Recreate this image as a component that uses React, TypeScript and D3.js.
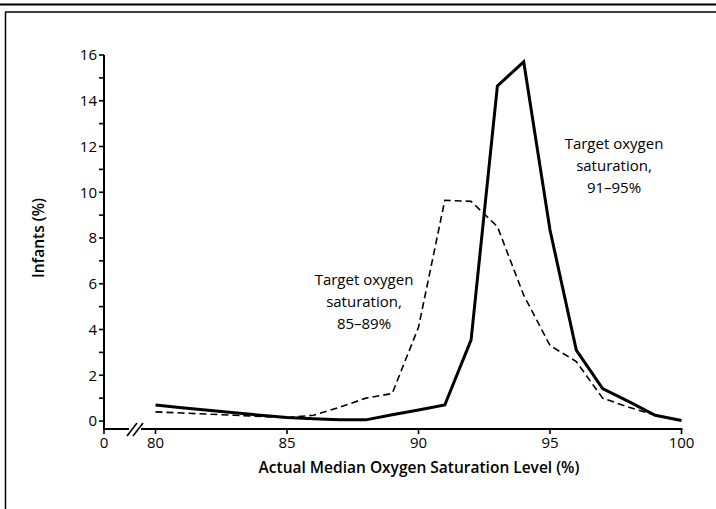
import React from "react";
import * as d3 from "d3";

const saturation = [80, 81, 82, 83, 84, 85, 86, 87, 88, 89, 90, 91, 92, 93, 94, 95, 96, 97, 98, 99, 100];
const target9195 = [0.7, 0.58, 0.47, 0.36, 0.25, 0.15, 0.1, 0.06, 0.05, 0.27, 0.48, 0.7, 3.55, 14.65, 15.7, 8.35, 3.1, 1.42, 0.85, 0.25, 0.02];
const target8589 = [0.4, 0.35, 0.3, 0.25, 0.2, 0.15, 0.25, 0.6, 1.0, 1.2, 4.1, 9.65, 9.6, 8.5, 5.5, 3.3, 2.6, 1.0, 0.6, 0.25, 0.02];
const xTicks = [80, 85, 90, 95, 100];
const yMajorTicks = [0, 2, 4, 6, 8, 10, 12, 14, 16];
const yMinorTicks = [1, 3, 5, 7, 9, 11, 13, 15];
const labelHigh = ["Target oxygen", "saturation,", "91\u201395%"];
const labelLow = ["Target oxygen", "saturation,", "85\u201389%"];

const FONT = "'Open Sans', sans-serif";

export default function App() {
  const W = 716, H = 509;
  const axisX = 104;
  const axisY = 429;
  const x = d3.scaleLinear().domain([80, 100]).range([155.5, 681.5]);
  const y = d3.scaleLinear().domain([0, 16]).range([421, 55]);

  const line = d3.line<number>()
    .x((_, i) => x(saturation[i]))
    .y((d) => y(d));

  return (
    <svg width={W} height={H} style={{ position: "absolute", left: 0, top: 0, background: "#fff" }}>
      {/* frame */}
      <line x1={0} x2={W} y1={4.5} y2={4.5} stroke="#000" strokeWidth={2} />
      <line x1={5} x2={W} y1={12} y2={12} stroke="#000" strokeWidth={1.5} />
      <line x1={5.5} x2={5.5} y1={12} y2={H} stroke="#000" strokeWidth={1.5} />

      {/* y axis */}
      <line x1={axisX} x2={axisX} y1={y(16)} y2={axisY} stroke="#000" strokeWidth={2} />
      {yMajorTicks.map((t) => (
        <g key={"ym" + t}>
          <line x1={axisX - 5} x2={axisX} y1={y(t)} y2={y(t)} stroke="#000" strokeWidth={1.6} />
          <text x={axisX - 7} y={y(t)} dy="0.35em" textAnchor="end" fontFamily={FONT} fontSize={15} fontWeight={500} fill="#000">{t}</text>
        </g>
      ))}
      {yMinorTicks.map((t) => (
        <line key={"yn" + t} x1={axisX - 5} x2={axisX} y1={y(t)} y2={y(t)} stroke="#000" strokeWidth={1.6} />
      ))}

      {/* x axis with break */}
      <line x1={axisX - 1} x2={129} y1={axisY} y2={axisY} stroke="#000" strokeWidth={2} />
      <line x1={141} x2={x(100) + 1} y1={axisY} y2={axisY} stroke="#000" strokeWidth={2} />
      <line x1={127} x2={137} y1={axisY + 7} y2={axisY - 6} stroke="#000" strokeWidth={1.6} />
      <line x1={133} x2={143} y1={axisY + 7} y2={axisY - 6} stroke="#000" strokeWidth={1.6} />
      <line x1={axisX} x2={axisX} y1={axisY} y2={axisY + 5} stroke="#000" strokeWidth={1.6} />
      <text x={axisX} y={axisY + 19} textAnchor="middle" fontFamily={FONT} fontSize={15} fontWeight={500} fill="#000">0</text>
      {xTicks.map((t) => (
        <g key={"x" + t}>
          <line x1={x(t)} x2={x(t)} y1={axisY} y2={axisY + 5} stroke="#000" strokeWidth={1.6} />
          <text x={x(t)} y={axisY + 19} textAnchor="middle" fontFamily={FONT} fontSize={15} fontWeight={500} fill="#000">{t}</text>
        </g>
      ))}

      {/* axis titles */}
      <text x={419} y={473} textAnchor="middle" fontFamily={FONT} fontSize={15.5} fontWeight={600} fill="#000">
        Actual Median Oxygen Saturation Level (%)
      </text>
      <text transform={`translate(44, ${y(8)}) rotate(-90)`} textAnchor="middle" fontFamily={FONT} fontSize={15.5} fontWeight={600} fill="#000">
        Infants (%)
      </text>

      {/* series */}
      <path d={line(target8589) || ""} fill="none" stroke="#000" strokeWidth={1.6} strokeDasharray="7,4" />
      <path d={line(target9195) || ""} fill="none" stroke="#000" strokeWidth={3} strokeLinejoin="miter" />

      {/* annotations */}
      {labelHigh.map((s, i) => (
        <text key={"h" + i} x={614} y={149 + i * 22} textAnchor="middle" fontFamily={FONT} fontSize={15} fontWeight={500} fill="#000">{s}</text>
      ))}
      {labelLow.map((s, i) => (
        <text key={"l" + i} x={364} y={285 + i * 22} textAnchor="middle" fontFamily={FONT} fontSize={15} fontWeight={500} fill="#000">{s}</text>
      ))}
    </svg>
  );
}
